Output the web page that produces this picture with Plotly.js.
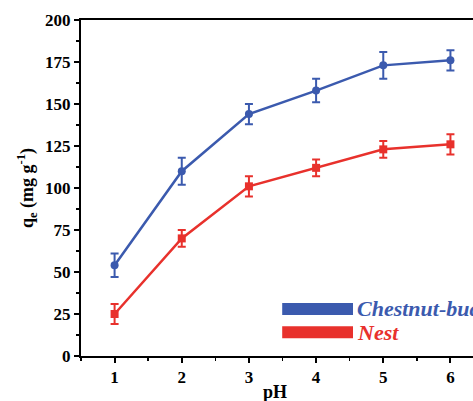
<!DOCTYPE html>
<html>
<head>
<meta charset="utf-8">
<script src="https://cdn.plot.ly/plotly-3.0.1.min.js"></script>
<style>
  html, body { margin: 0; padding: 0; overflow: hidden; background: #fff; }
  #chart { width: 481px; height: 401px; }
</style>
</head>
<body>
<div id="chart"></div>
<script>
// Adsorption capacity versus pH for two adsorbents
const pH = [1, 2, 3, 4, 5, 6];
const chestnutQe = [54, 110, 144, 158, 173, 176];
const chestnutErr = [7, 8, 6, 7, 8, 6];
const nestQe = [25, 70, 101, 112, 123, 126];
const nestErr = [6, 5, 6, 5, 5, 6];
const seriesNames = ['Chestnut-bud', 'Nest'];
const xTicks = [1, 2, 3, 4, 5, 6];
const yTicks = [0, 25, 50, 75, 100, 125, 150, 175, 200];

const BLUE = '#3b5aae';
const RED = '#e8312c';
const FONT = '"Liberation Serif", "Times New Roman", serif';

const traces = [
  {
    x: pH, y: chestnutQe, name: seriesNames[0], type: 'scatter', mode: 'lines+markers',
    line: { color: BLUE, width: 2.5 },
    marker: { symbol: 'circle', size: 8, color: BLUE },
    error_y: { type: 'data', array: chestnutErr, visible: true, color: BLUE, thickness: 2, width: 4 },
    showlegend: false
  },
  {
    x: pH, y: nestQe, name: seriesNames[1], type: 'scatter', mode: 'lines+markers',
    line: { color: RED, width: 2.5 },
    marker: { symbol: 'square', size: 8, color: RED },
    error_y: { type: 'data', array: nestErr, visible: true, color: RED, thickness: 2, width: 4 },
    showlegend: false
  }
];

const axisCommon = {
  showgrid: false, zeroline: false,
  showline: true, linecolor: '#000', linewidth: 2,
  ticks: 'outside', ticklen: 5, tickwidth: 2, tickcolor: '#000',
  tickfont: { family: FONT, size: 17, color: '#000', weight: 'bold' },
  minor: { ticks: 'outside', ticklen: 3, tickwidth: 1.5, tickcolor: '#000' }
};

const layout = {
  width: 481, height: 401,
  margin: { l: 81, r: 0, t: 20, b: 45 },
  paper_bgcolor: '#fff', plot_bgcolor: '#fff',
  font: { family: FONT },
  xaxis: Object.assign({}, axisCommon, {
    range: [0.5, 6.455], tickvals: xTicks, ticktext: xTicks.map(String),
    minor: Object.assign({}, axisCommon.minor, { dtick: 0.5, tick0: 0.5 }),
    mirror: true
  }),
  yaxis: Object.assign({}, axisCommon, {
    range: [0, 200], tickvals: yTicks, ticktext: yTicks.map(String),
    minor: Object.assign({}, axisCommon.minor, { dtick: 12.5, tick0: 0 }),
    title: { text: 'q<sub>e</sub> (mg g<sup>-1</sup>)', font: { family: FONT, size: 18, color: '#000', weight: 'bold' }, standoff: 7 }
  }),
  shapes: [
    { type: 'line', xref: 'paper', yref: 'paper', x0: 0.503, x1: 0.68, y0: 0.14, y1: 0.14, line: { color: BLUE, width: 12 } },
    { type: 'line', xref: 'paper', yref: 'paper', x0: 0.503, x1: 0.68, y0: 0.071, y1: 0.071, line: { color: RED, width: 12 } }
  ],
  annotations: [
    { xref: 'paper', yref: 'paper', x: 0.684, y: 0.14, xanchor: 'left', yanchor: 'middle', showarrow: false,
      text: '<b><i>' + seriesNames[0] + '</i></b>', font: { family: FONT, size: 22, color: BLUE } },
    { xref: 'paper', yref: 'paper', x: 0.684, y: 0.071, xanchor: 'left', yanchor: 'middle', showarrow: false,
      text: '<b><i>' + seriesNames[1] + '</i></b>', font: { family: FONT, size: 22, color: RED } },
    { xref: 'paper', yref: 'paper', x: 0.484, y: -0.108, xanchor: 'center', yanchor: 'middle', showarrow: false,
      text: '<b>pH</b>', font: { family: FONT, size: 18, color: '#000' } }
  ]
};

Plotly.newPlot('chart', traces, layout, { displayModeBar: false, staticPlot: true });
</script>
</body>
</html>
